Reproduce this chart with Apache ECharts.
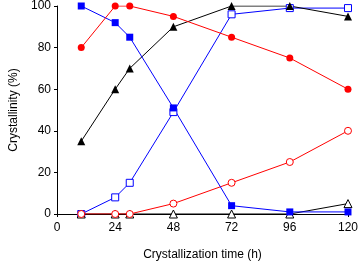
<!DOCTYPE html>
<html><head><meta charset="utf-8">
<script src="https://cdn.jsdelivr.net/npm/echarts@6/dist/echarts.min.js"></script>
<style>html,body{margin:0;padding:0;background:#fff}#c{width:361px;height:266px}</style>
</head><body><div id="c"></div>
<script>
const times = [10, 24, 30, 48, 72, 96, 120];
const redFilled = [80, 100, 100, 95, 85, 75, 60];
const blueFilled = [100, 92, 85, 51, 4, 1, 1];
const blackFilled = [35, 60, 70, 90, 100, 100, 95];
const blueOpen = [0, 8, 15, 49, 96, 99, 99];
const redOpen = [0, 0, 0, 5, 15, 25, 40];
const blackOpen = [0, 0, 0, 0, 0, 0, 5];
const xTicks = [0, 24, 48, 72, 96, 120];
const yTicks = [0, 20, 40, 60, 80, 100];

const pairs = arr => times.map((t, i) => [t, arr[i]]);
function mk(data, color, symbol, filled, size) {
  return {
    type: 'line', data: pairs(data), symbol: symbol, symbolSize: size,
    lineStyle: { color: color, width: 1 },
    itemStyle: { color: filled ? color : '#fff', borderColor: color, borderWidth: filled ? 0 : 1 },
    animation: false
  };
}
const font = 'Liberation Sans, Arial, sans-serif';
const chart = echarts.init(document.getElementById('c'));
chart.setOption({
  grid: { left: 55, right: 12, top: 6, bottom: 47 },
  xAxis: {
    type: 'value', min: 0, max: 120, interval: 24,
    name: 'Crystallization time (h)', nameLocation: 'middle', nameGap: 35,
    nameTextStyle: { color: '#000', fontSize: 12, fontFamily: font },
    axisLine: { lineStyle: { color: '#000', width: 1 } },
    axisTick: { show: true, length: 3, lineStyle: { color: '#000' } },
    axisLabel: { color: '#000', fontSize: 12, fontFamily: font, margin: 8,
      formatter: v => xTicks.includes(v) ? String(v) : '' },
    splitLine: { show: false }
  },
  yAxis: {
    type: 'value', min: 0, max: 100, interval: 20,
    name: 'Crystallinity (%)', nameLocation: 'middle', nameGap: 37,
    nameTextStyle: { color: '#000', fontSize: 12, fontFamily: font },
    axisLine: { show: true, lineStyle: { color: '#000', width: 1 } },
    axisTick: { show: true, length: 3, lineStyle: { color: '#000' } },
    axisLabel: { color: '#000', fontSize: 12, fontFamily: font, margin: 6,
      formatter: v => yTicks.includes(v) ? String(v) : '' },
    splitLine: { show: false }
  },
  series: [
    mk(blueOpen, '#0000ff', 'rect', false, 7),
    mk(blackOpen, '#000', 'triangle', false, 8),
    mk(redOpen, '#ff0000', 'circle', false, 7),
    mk(blackFilled, '#000', 'triangle', true, 8),
    mk(blueFilled, '#0000ff', 'rect', true, 7),
    mk(redFilled, '#ff0000', 'circle', true, 7)
  ]
});
</script></body></html>
